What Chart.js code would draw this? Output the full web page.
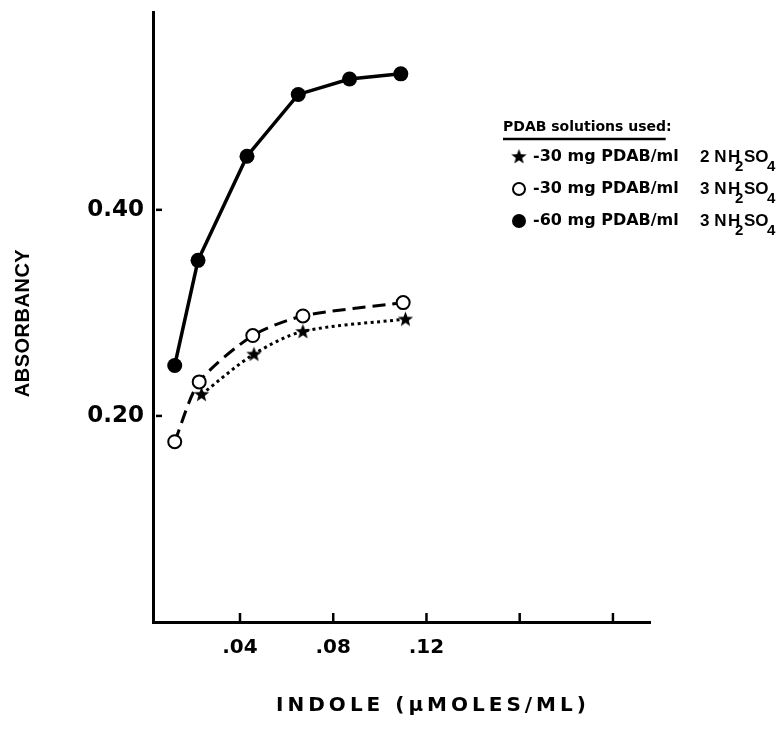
<!DOCTYPE html>
<html>
<head>
<meta charset="utf-8">
<script src="https://cdn.jsdelivr.net/npm/chart.js@4.4.1/dist/chart.umd.min.js"></script>
<style>
  html, body { margin: 0; padding: 0; background: #fff; }
  #wrap { width: 779px; height: 730px; }
</style>
</head>
<body>
<div id="wrap"><canvas id="chart" width="779" height="730"></canvas></div>
<script>
// indole (umoles/ml)
const indoleSolid = [0.012, 0.022, 0.043, 0.065, 0.087, 0.109];
const absorbSolid = [0.249, 0.351, 0.452, 0.512, 0.527, 0.532];

const indoleOpen = [0.012, 0.0225, 0.0455, 0.067, 0.110];
const absorbOpen = [0.175, 0.233, 0.278, 0.297, 0.310];

const indoleStar = [0.0235, 0.046, 0.067, 0.111];
const absorbStar = [0.221, 0.260, 0.282, 0.294];

const xTickValues = [0.04, 0.08, 0.12, 0.16, 0.20];
const xTickLabels = [".04", ".08", ".12", "", ""];
const yTickValues = [0.2, 0.4];
const yTickLabels = ["0.20", "0.40"];

const legendTitle = "PDAB solutions used:";
const legendLabels = ["-30 mg PDAB/ml", "-30 mg PDAB/ml", "-60 mg PDAB/ml"];
const legendAcid = ["2 N", "3 N", "3 N"];
const xTitle = "INDOLE (\u03BCMOLES/ML)";
const yTitle = "ABSORBANCY";

function pairs(xs, ys) {
  return xs.map((x, i) => ({ x: x, y: ys[i] }));
}

// filled five point star for the 2N series
function makeStar(size) {
  const c = document.createElement("canvas");
  c.width = size;
  c.height = size;
  const g = c.getContext("2d");
  const cx = size / 2, cy = size / 2 + 0.5;
  const outer = size / 2 - 0.5, inner = outer * 0.42;
  g.beginPath();
  for (let i = 0; i < 10; i++) {
    const r = i % 2 === 0 ? outer : inner;
    const a = -Math.PI / 2 + i * Math.PI / 5;
    g.lineTo(cx + r * Math.cos(a), cy + r * Math.sin(a));
  }
  g.closePath();
  g.fillStyle = "#000";
  g.fill();
  return c;
}
const starImg = makeStar(17);

// H2SO4 with the lettering-style low subscripts
function drawH2SO4(ctx, x, y) {
  ctx.font = "bold 17px 'Liberation Sans'";
  ctx.fillText("H", x, y);
  ctx.fillText("SO", x + 16, y);
  ctx.font = "bold 15px 'Liberation Sans'";
  ctx.fillText("2", x + 7, y + 10);
  ctx.fillText("4", x + 39, y + 10);
}

const extras = {
  id: "extras",
  afterDraw(chart) {
    const ctx = chart.ctx;
    const xs = chart.scales.x, ys = chart.scales.y;
    const area = chart.chartArea;
    ctx.save();
    ctx.strokeStyle = "#000";
    ctx.fillStyle = "#000";

    // inward tick marks
    ctx.lineWidth = 2.5;
    yTickValues.forEach((v) => {
      const py = ys.getPixelForValue(v);
      ctx.beginPath();
      ctx.moveTo(area.left + 3, py);
      ctx.lineTo(area.left + 9, py);
      ctx.stroke();
    });
    xTickValues.forEach((v) => {
      const px = xs.getPixelForValue(v);
      ctx.beginPath();
      ctx.moveTo(px, area.bottom);
      ctx.lineTo(px, area.bottom - 9);
      ctx.stroke();
    });

    // axis titles
    ctx.textAlign = "center";
    ctx.textBaseline = "middle";
    ctx.font = "bold 20px 'Liberation Sans'";
    ctx.letterSpacing = "0.5px";
    ctx.save();
    ctx.translate(23, 323);
    ctx.rotate(-Math.PI / 2);
    ctx.fillText(yTitle, 0, 0);
    ctx.restore();

    ctx.font = "bold 20px 'DejaVu Sans'";
    ctx.letterSpacing = "4px";
    ctx.fillText(xTitle, 433, 706);
    ctx.letterSpacing = "0px";

    // legend
    ctx.textAlign = "left";
    ctx.font = "bold 14px 'DejaVu Sans'";
    ctx.fillText(legendTitle, 503, 127);
    const tw = ctx.measureText(legendTitle).width;
    ctx.lineWidth = 2.5;
    ctx.beginPath();
    ctx.moveTo(503, 139);
    ctx.lineTo(503 + tw - 6, 139);
    ctx.stroke();

    const rowY = [157, 189, 221];
    rowY.forEach((y, i) => {
      if (i === 0) {
        ctx.drawImage(starImg, 519 - 8.5, y - 9);
      } else {
        ctx.beginPath();
        ctx.arc(519, y, i === 1 ? 6 : 7, 0, Math.PI * 2);
        if (i === 1) {
          ctx.lineWidth = 2;
          ctx.stroke();
        } else {
          ctx.fill();
        }
      }
      ctx.font = "bold 16px 'DejaVu Sans'";
      ctx.fillText(legendLabels[i], 533, y);
      ctx.font = "bold 17px 'Liberation Sans'";
      ctx.fillText(legendAcid[i], 700, y);
      drawH2SO4(ctx, 728, y);
    });
    ctx.restore();
  }
};

new Chart(document.getElementById("chart"), {
  type: "line",
  data: {
    datasets: [
      {
        label: "-60 mg PDAB/ml 3N H2SO4",
        data: pairs(indoleSolid, absorbSolid),
        borderColor: "#000",
        borderWidth: 3.5,
        tension: 0,
        pointRadius: 7.5,
        pointBackgroundColor: "#000",
        pointBorderColor: "#000",
        pointBorderWidth: 0
      },
      {
        label: "-30 mg PDAB/ml 3N H2SO4",
        data: pairs(indoleOpen, absorbOpen),
        borderColor: "#000",
        borderWidth: 3,
        borderDash: [13, 7],
        tension: 0.25,
        pointRadius: 6.5,
        pointBackgroundColor: "#fff",
        pointBorderColor: "#000",
        pointBorderWidth: 2
      },
      {
        label: "-30 mg PDAB/ml 2N H2SO4",
        data: pairs(indoleStar, absorbStar),
        borderColor: "#000",
        borderWidth: 3,
        borderDash: [3, 3.5],
        tension: 0.3,
        pointStyle: starImg,
        pointRadius: 8
      }
    ]
  },
  options: {
    responsive: false,
    animation: false,
    layout: { padding: { left: 0, right: 129, top: 12, bottom: 0 } },
    plugins: {
      legend: { display: false },
      tooltip: { enabled: false }
    },
    scales: {
      x: {
        type: "linear",
        min: 0.00268,
        max: 0.2159,
        afterFit: (axis) => {
          axis.height = 108;
          axis.paddingLeft = 0;
          axis.paddingRight = 0;
        },
        afterBuildTicks: (axis) => {
          axis.ticks = xTickValues.map((v) => ({ value: v }));
        },
        grid: { display: false, drawTicks: false },
        border: { display: true, color: "#000", width: 3 },
        ticks: {
          color: "#000",
          padding: 14,
          maxRotation: 0,
          autoSkip: false,
          font: { family: "'DejaVu Sans'", size: 20, weight: "bold" },
          callback: (v, i) => xTickLabels[i]
        }
      },
      y: {
        min: 0,
        max: 0.592,
        afterFit: (axis) => {
          axis.width = 153;
          axis.paddingTop = 0;
          axis.paddingBottom = 0;
        },
        afterBuildTicks: (axis) => {
          axis.ticks = yTickValues.map((v) => ({ value: v }));
        },
        grid: { display: false, drawTicks: false },
        border: { display: true, color: "#000", width: 3 },
        ticks: {
          color: "#000",
          padding: 9,
          font: { family: "'DejaVu Sans'", size: 23, weight: "bold" },
          callback: (v, i) => yTickLabels[i]
        }
      }
    }
  },
  plugins: [extras]
});
</script>
</body>
</html>
